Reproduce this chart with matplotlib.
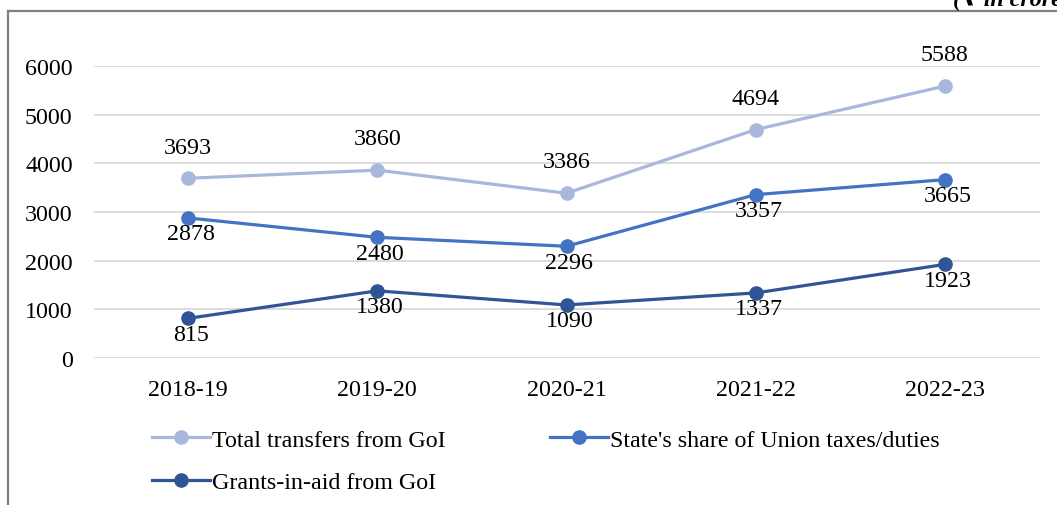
import numpy as np
import matplotlib.pyplot as plt
from matplotlib.lines import Line2D

plt.rcParams['font.family'] = ['Liberation Serif', 'DejaVu Sans']

years = ["2018-19", "2019-20", "2020-21", "2021-22", "2022-23"]
total_transfers = [3693, 3860, 3386, 4694, 5588]
state_share = [2878, 2480, 2296, 3357, 3665]
grants_in_aid = [815, 1380, 1090, 1337, 1923]

names = ["Total transfers from GoI", "State's share of Union taxes/duties", "Grants-in-aid from GoI"]
colors = ["#A9B7DD", "#4472C4", "#2F5597"]

W, H = 1057, 506
fig = plt.figure(figsize=(W / 100, H / 100), dpi=100)
ax = fig.add_axes([93.5 / W, 1 - 359 / H, (1039.5 - 93.5) / W, (359 - 67) / H])

x = np.arange(len(years))
series = [total_transfers, state_share, grants_in_aid]
for vals, c, n in zip(series, colors, names):
    ax.plot(x, vals, '-o', color=c, lw=2.3, ms=9.5, label=n, clip_on=False, zorder=3)

fs = 17.3
# labels: total above, others below
for xi, v in zip(x, total_transfers):
    ax.annotate(str(v), (xi, v), textcoords="offset points", xytext=(0, 22.5),
                ha='center', va='center', fontsize=fs)
for vals in (state_share, grants_in_aid):
    for xi, v in zip(x, vals):
        ax.annotate(str(v), (xi, v), textcoords="offset points", xytext=(2, -11.5),
                    ha='center', va='center', fontsize=fs)

ax.set_xlim(-0.5, len(years) - 0.5)
ax.set_ylim(0, 6000)
ax.set_yticks(range(0, 6001, 1000))
ax.set_xticks(x)
ax.set_xticklabels(years)
ax.tick_params(axis='both', length=0, labelsize=fs)
ax.tick_params(axis='y', pad=15)
ax.tick_params(axis='x', pad=15)
ax.grid(axis='y', color='#D9D9D9', lw=1.3)
ax.set_axisbelow(True)
for s in ax.spines.values():
    s.set_visible(False)

handles = [Line2D([], [], color=c, lw=2.3, marker='o', ms=9.5) for c in colors]
fig.legend([handles[0], handles[2], handles[1]], [names[0], names[2], names[1]],
           ncol=2, loc='upper left', bbox_to_anchor=(152 / W, 1 - 430 / H),
           frameon=False, fontsize=fs, handlelength=2.4, handletextpad=0.1,
           columnspacing=4.35, labelspacing=0.85, borderpad=0, borderaxespad=0)

# outer border and cropped unit note
fig.add_artist(Line2D([8 / W, 1], [1 - 12 / H, 1 - 12 / H], color='#808080', lw=1.6))
fig.add_artist(Line2D([8 / W, 8 / W], [0, 1 - 12 / H], color='#808080', lw=1.6))
fig.text(953 / W, 1 - 5 / H, "(₹ in crore)", fontsize=fs, style='italic',
         weight='bold', va='baseline', ha='left')

fig.savefig("out.png", dpi=100)
